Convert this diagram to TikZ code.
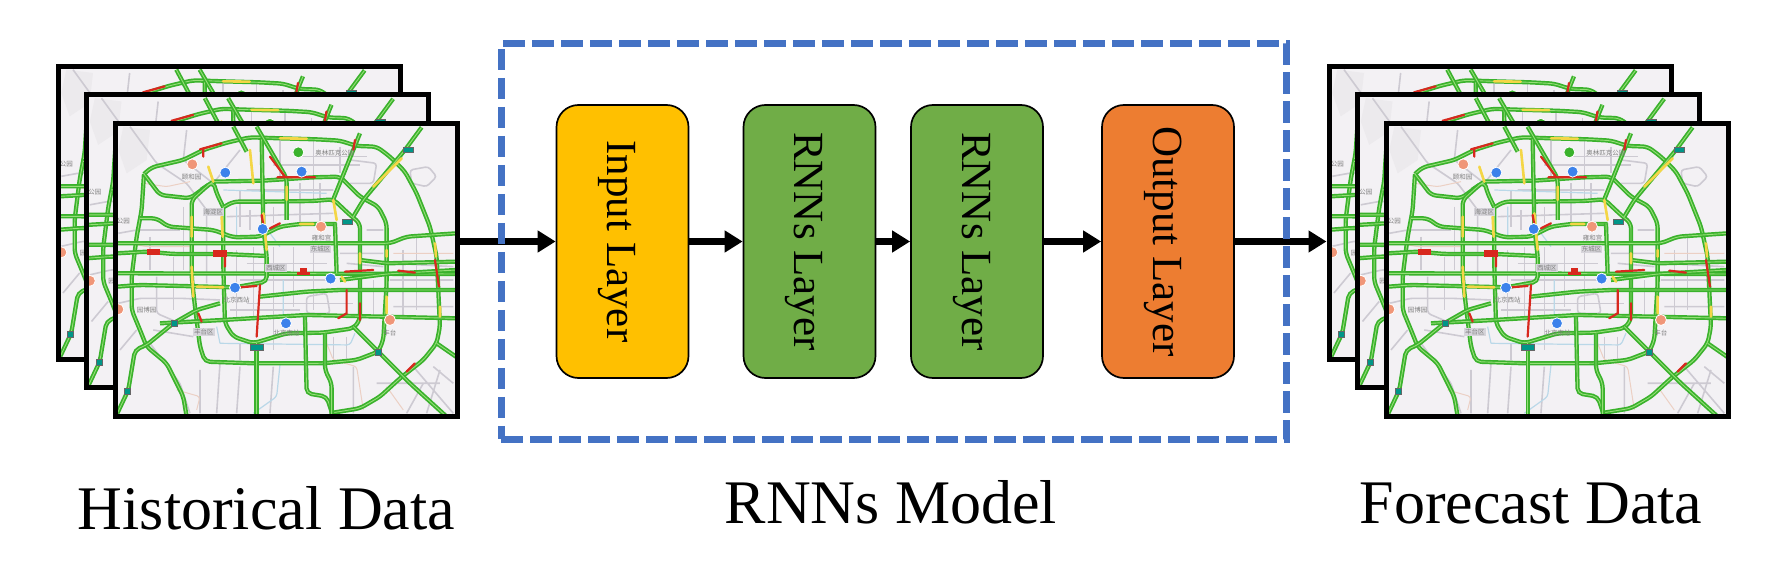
\documentclass[tikz,border=0pt]{standalone}
\usepackage{fontspec}
\setmainfont{Liberation Serif}
\newfontfamily\cjkmap{Noto Sans CJK SC}
\usepackage{xcolor}
\usepackage{tikz}
\usetikzlibrary{
	arrows.meta,
	calc
}
\definecolor{MapBack}{RGB}{243,241,244}
\definecolor{MapGrey}{RGB}{205,202,210}
\definecolor{MapBlue}{RGB}{186,216,232}
\definecolor{MapSalmon}{RGB}{236,208,196}
\definecolor{RoadGreen}{RGB}{58,178,44}
\definecolor{RoadCore}{RGB}{150,222,120}
\definecolor{JamRed}{RGB}{216,40,30}
\definecolor{SlowYellow}{RGB}{244,214,70}
\definecolor{SignTeal}{RGB}{0,150,136}
\definecolor{PoiBlue}{RGB}{60,130,235}
\definecolor{PoiOrange}{RGB}{240,150,120}
\definecolor{InputAmber}{RGB}{255,192,0}
\definecolor{RnnGreen}{RGB}{112,173,71}
\definecolor{OutputOrange}{RGB}{237,125,49}
\definecolor{ModelBlue}{RGB}{68,114,196}
\tikzset{
	minorroad/.style={draw=MapGrey, line width=1.6pt, rounded corners=3pt},
	subway/.style={draw=MapBlue, line width=1.2pt, rounded corners=3pt},
	sideroad/.style={draw=MapSalmon, line width=1pt, rounded corners=3pt},
	mainroad/.style={draw=RoadGreen, double=RoadCore, double distance=0.9pt, line width=1.7pt, rounded corners=5pt},
	jam/.style={draw=JamRed, line width=2.2pt, line cap=round},
	slow/.style={draw=SlowYellow, line width=2.6pt, line cap=round},
	sign/.style={fill=SignTeal, draw=black!60, line width=0.4pt},
	jambox/.style={fill=JamRed},
	poi/.style={circle, fill=#1, draw=white, line width=0.8pt, minimum size=11pt, inner sep=0pt},
	placename/.style={text=black!50, font=\cjkmap\fontsize{6.5}{7}\selectfont, inner sep=1pt},
	districtname/.style={placename, fill=MapGrey!80},
	mapframe/.style={draw=black, line width=5pt, minimum width=342pt, minimum height=292pt, inner sep=0pt},
	layerbox/.style={draw=black, line width=1.7pt, rounded corners=22pt, rotate=-90, minimum width=273pt, minimum height=132pt, inner sep=0pt, text height=39pt, text depth=9pt, font=\fontsize{43}{50}\selectfont},
	flow/.style={-{Triangle[length=18pt, width=21pt]}, line width=7pt},
	modelbox/.style={draw=ModelBlue, line width=7pt, dash pattern=on 21.5pt off 7.5pt, minimum width=785.5pt, minimum height=395.7pt, inner sep=0pt},
	caption/.style={anchor=base, inner sep=0pt, font=\fontsize{62}{70}\selectfont}
}
% names that only the front map shows
\newcommand{\mapnames}{
	\node[placename] (nameA) at (455,380) {颐和园};
	\node[placename] (nameB) at (885,310) {奥林匹克公园};
	\node[placename] (nameC) at (590,750) {北京西站};
	\node[placename] (nameD) at (740,850) {北京南站};
	\node[placename] (nameE) at (845,565) {雍和宫};
	\node[placename] (nameF) at (1050,848) {丰台};
	\node[districtname] (distA) at (520,487) {海淀区};
	\node[districtname] (distB) at (708,655) {西城区};
	\node[districtname] (distC) at (842,598) {东城区};
	\node[districtname] (distD) at (492,846) {丰台区};
}
\newcommand{\trafficmap}[3]{
	\begin{scope}[shift={(40+#1,50+#2)}, x=0.3333pt, y=-0.3333pt]
		\clip (222,218) rectangle (1255,1100);
		\fill[MapBack] (222,218) rectangle (1255,1100);
		\fill[black!3!MapBack] (250,230) -- (330,240) -- (320,330) -- (260,370) -- (235,300) -- cycle;
		% grey street grid
		\draw[minorroad] (270,230) -- (350,340) -- (440,400) -- (500,480) -- (500,700);
		\draw[minorroad] (440,240) -- (430,330) -- (520,400) -- (600,300);
		\draw[minorroad] (235,550) -- (290,540) -- (420,540);
		\draw[minorroad] (235,760) -- (300,745) -- (420,745) -- (540,750);
		\draw[minorroad] (350,680) -- (350,790) -- (420,820);
		\draw[minorroad] (400,620) -- (400,780) (430,470) -- (430,660) (330,560) -- (330,660);
		\draw[minorroad] (600,420) -- (600,530) (630,480) -- (630,540) (700,470) -- (700,520);
		\draw[minorroad] (720,270) -- (720,380) (780,320) -- (980,320) (820,270) -- (820,450);
		\draw[minorroad] (620,420) -- (880,420) (560,500) -- (880,490) (700,345) -- (960,345);
		\draw[minorroad] (780,400) -- (780,520) (840,400) -- (840,520) (900,290) -- (900,370);
		\draw[minorroad] (590,600) -- (590,800) (620,640) -- (860,640) (640,590) -- (640,800);
		\draw[minorroad] (700,590) -- (700,900) (760,590) -- (760,770) (820,600) -- (820,780);
		\draw[minorroad] (620,760) -- (940,760) (600,690) -- (860,690) (570,780) -- (780,780);
		\draw[minorroad] (900,610) -- (1030,610) (980,540) -- (1030,540) (920,640) -- (1030,650);
		\draw[minorroad] (1000,690) -- (1000,800) (1090,600) -- (1090,800) (1130,560) -- (1130,780);
		\draw[minorroad] (1050,640) -- (1240,650) (1050,690) -- (1240,690) (1060,770) -- (1240,770);
		\draw[minorroad] (800,740) -- (860,730) -- (870,790) -- (800,790) -- cycle;
		\draw[minorroad] (1010,1000) -- (1200,1000) (1120,950) -- (1240,1090) (1180,950) -- (1240,1000);
		\draw[minorroad] (1150,1000) -- (1100,1090) (1200,960) -- (1160,1090);
		\draw[minorroad] (330,880) -- (420,1000) -- (450,1090) (340,840) -- (460,860);
		\draw[minorroad] (600,950) -- (590,1090) (700,950) -- (690,1090) (940,950) -- (940,1090);
		\draw[minorroad] (240,900) -- (290,840) (480,960) -- (480,1090) (540,940) -- (530,1090);
		\draw[minorroad] (880,860) -- (880,930) (920,860) -- (920,930) (600,880) -- (600,930);
		\draw[minorroad] (1110,360) -- (1165,350) -- (1190,380) -- (1160,410) -- (1115,400) -- cycle;
		\draw[minorroad] (930,330) -- (1010,340) -- (1000,400) -- (930,400);
		\draw[minorroad] (1140,460) -- (1170,530);
		\draw[subway] (540,880) -- (930,885) -- (945,850) (540,880) -- (530,830);
		\draw[subway] (590,470) -- (590,560) (730,690) -- (730,810) (720,945) -- (710,1040) -- (640,1090);
		\draw[subway] (550,420) -- (860,430) (690,550) -- (720,590);
		\draw[sideroad] (235,575) -- (320,590) -- (455,590) (1060,610) -- (1240,610);
		\draw[sideroad] (310,400) -- (380,410) -- (450,395);
		\draw[sideroad] (860,880) -- (880,930) -- (950,950) -- (970,1080) (1040,1010) -- (1090,1080);
		\draw[sideroad] (410,1020) -- (480,1040) -- (470,1080);
		% main roads
		\draw[mainroad] (312,372) -- (335,352) -- (430,330) -- (490,300) -- (560,278) -- (630,262) -- (720,265) -- (830,268) -- (900,272) -- (950,288) -- (1010,290) -- (1050,320) -- (1095,365) -- (1130,430) -- (1170,530) -- (1190,620) -- (1195,720) -- (1200,830) -- (1190,880) -- (1150,930) -- (1080,985) -- (1020,1040) -- (960,1075) -- (880,1088);
		\draw[mainroad] (312,372) -- (305,480) -- (290,560) -- (275,680) -- (275,780) -- (300,840) -- (320,890) -- (380,940) -- (430,1040) -- (440,1100);
		\draw[mainroad] (400,820) -- (320,885) -- (285,900) -- (265,1020) -- (232,1090);
		\draw[mainroad] (312,372) -- (360,435) -- (450,445) -- (505,405);
		\draw[mainroad] (520,395) -- (670,392) -- (820,382) -- (900,380) -- (960,440) -- (1015,470) -- (1040,520) -- (1040,700) -- (1030,870) -- (1015,905) -- (950,930) -- (850,940) -- (640,940) -- (495,935) -- (480,890) -- (465,770) -- (455,680) -- (455,450) -- (505,405) -- (520,395) -- (530,430) -- (550,472);
		\draw[mainroad] (550,472) -- (580,455) -- (670,455) -- (820,453) -- (880,448) -- (930,495) -- (960,520) -- (960,810) -- (940,835) -- (850,848) -- (740,850) -- (640,880) -- (580,860) -- (555,820) -- (550,650) -- (550,472);
		\draw[mainroad] (232,610) -- (320,605) -- (400,612) -- (550,612) -- (680,618);
		\draw[mainroad] (300,505) -- (350,505) -- (385,530) -- (520,540) -- (580,562) -- (660,560) -- (720,530) -- (780,522) -- (890,522);
		\draw[mainroad] (232,580) -- (1050,580) -- (1100,560) -- (1250,550);
		\draw[mainroad] (232,670) -- (1250,672);
		\draw[mainroad] (900,690) -- (1040,672) -- (1250,660);
		\draw[mainroad] (960,630) -- (1040,640) -- (1250,635);
		\draw[mainroad] (232,710) -- (300,705) -- (585,712) -- (680,695) -- (680,620);
		\draw[mainroad] (660,740) -- (800,725) -- (900,720) -- (1250,720);
		\draw[mainroad] (360,820) -- (550,810) -- (800,795) -- (1250,805);
		\draw[mainroad] (400,820) -- (470,780) -- (540,760);
		\draw[mainroad] (665,265) -- (670,530) -- (680,620);
		\draw[mainroad] (580,230) -- (620,305);
		\draw[mainroad] (650,230) -- (740,385) -- (740,510);
		\draw[mainroad] (1145,232) -- (1095,300) -- (970,450) -- (940,500);
		\draw[mainroad] (960,250) -- (880,448);
		\draw[mainroad] (885,520) -- (890,670);
		\draw[mainroad] (650,880) -- (650,1100);
		\draw[mainroad] (795,800) -- (800,1030) -- (860,1040) -- (880,1100);
		\draw[mainroad] (855,850) -- (855,960) -- (875,1000) -- (875,1100);
		\draw[mainroad] (940,830) -- (1010,900) -- (1110,1000) -- (1220,1100);
		\draw[mainroad] (1190,880) -- (1255,925);
		% slow and jammed sections
		\draw[slow] (455,500) -- (455,560) (455,650) -- (460,740) (545,500) -- (548,560);
		\draw[slow] (1000,410) -- (1085,325) (505,350) -- (520,395) (1040,600) -- (1040,620) (1040,740) -- (1040,790);
		\draw[slow] (1185,580) -- (1188,620) (1200,770) -- (1200,800) (470,710) -- (550,712);
		\draw[slow] (630,300) -- (640,400) (670,490) -- (680,600) (780,522) -- (820,522) (740,410) -- (740,450);
		\draw[slow] (720,265) -- (800,266) (880,450) -- (890,510) (905,680) -- (915,695) (960,610) -- (960,640);
		\draw[jam] (650,860) -- (660,705) (920,720) -- (920,790) -- (895,805) (960,760) -- (960,810);
		\draw[jam] (1185,630) -- (1197,710) (690,320) -- (735,380) (712,382) -- (825,382);
		\draw[jam] (480,298) -- (545,280) (690,535) -- (720,520) (600,712) -- (650,708);
		\draw[jam] (490,295) -- (490,320) (945,270) -- (940,300) (915,665) -- (1000,660) (1075,662) -- (1125,668);
		\draw[jam] (665,495) -- (670,525) (475,790) -- (485,815) (555,620) -- (555,650) (1100,965) -- (1125,940);
		% signs and points of interest
		\fill[jambox] (320,596) rectangle (360,615);
		\fill[jambox] (520,601) rectangle (560,620);
		\fill[jambox] (770,665) rectangle (810,674);
		\fill[jambox] (780,655) rectangle (800,665);
		\path[sign] (1090,292) rectangle (1120,308);
		\path[sign] (908,508) rectangle (936,524);
		\path[sign] (632,884) rectangle (670,902);
		\path[sign] (1005,898) rectangle (1025,916);
		\path[sign] (395,812) rectangle (412,828);
		\path[sign] (253,1014) rectangle (272,1032);
		\node[poi=PoiBlue] (poiA) at (556,368) {};
		\node[poi=PoiBlue] (poiB) at (785,365) {};
		\node[poi=PoiBlue] (poiC) at (668,537) {};
		\node[poi=PoiBlue] (poiD) at (872,686) {};
		\node[poi=PoiBlue] (poiE) at (585,713) {};
		\node[poi=PoiBlue] (poiF) at (738,820) {};
		\node[poi=RoadGreen] (poiG) at (775,307) {};
		\node[poi=PoiOrange] (poiH) at (457,343) {};
		\node[poi=PoiOrange] (poiI) at (843,530) {};
		\node[poi=PoiOrange] (poiJ) at (1050,810) {};
		\node[poi=PoiOrange] (poiK) at (235,778) {};
		\node[placename] (nameG) at (320,780) {园博园};
		\node[placename] (nameH) at (250,512) {公园};
		#3
	\end{scope}
}

\begin{document}
\begin{tikzpicture}[x=1pt, y=-1pt]
	\useasboundingbox (0,0) rectangle (1773,564);
	\trafficmap{-57}{-57}{}
	\node[mapframe] (histA) at (229,213) {};
	\trafficmap{-28.5}{-28.5}{}
	\node[mapframe] (histB) at (257.5,241) {};
	\trafficmap{0}{0}{\mapnames}
	\node[mapframe] (histC) at (286,270) {};
	\trafficmap{1214}{-57}{}
	\node[mapframe] (foreA) at (1500,213) {};
	\trafficmap{1242.5}{-28.5}{}
	\node[mapframe] (foreB) at (1528.5,241) {};
	\trafficmap{1271}{0}{\mapnames}
	\node[mapframe] (foreC) at (1557,270) {};
	\node[layerbox, fill=InputAmber] (inputlayer) at (622.5,241.5) {Input Layer};
	\node[layerbox, fill=RnnGreen] (rnnlayerA) at (809.5,241.5) {RNNs Layer};
	\node[layerbox, fill=RnnGreen] (rnnlayerB) at (977,241.5) {RNNs Layer};
	\node[layerbox, fill=OutputOrange] (outputlayer) at (1168,241.5) {Output Layer};
	\draw[flow] (histC.east |- inputlayer) -- (inputlayer);
	\draw[flow] (inputlayer) -- (rnnlayerA);
	\draw[flow] (rnnlayerA) -- (rnnlayerB);
	\draw[flow] (rnnlayerB) -- (outputlayer);
	\draw[flow] (outputlayer) -- (foreA.west |- outputlayer);
	\node[modelbox] (model) at (893.9,241.4) {};
	\node[caption] (histlabel) at (266.5,529) {Historical Data};
	\node[caption] (modellabel) at (891,523.5) {RNNs Model};
	\node[caption] (forelabel) at (1531,523.5) {Forecast Data};
\end{tikzpicture}
\end{document}
